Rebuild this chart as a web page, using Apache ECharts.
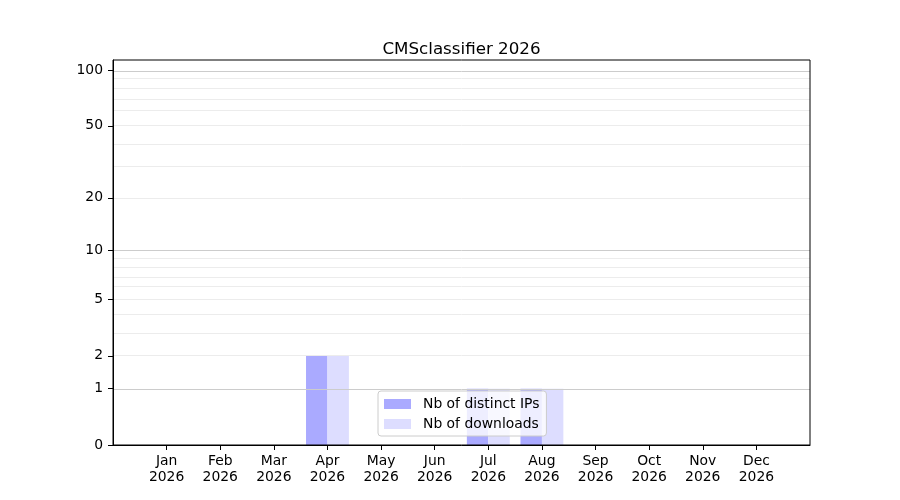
<!DOCTYPE html>
<html>
<head>
<meta charset="utf-8">
<script src="https://cdn.jsdelivr.net/npm/echarts@6/dist/echarts.min.js"></script>
<style>html,body{margin:0;padding:0;background:#fff}#c{width:900px;height:500px}</style>
</head>
<body>
<div id="c"></div>
<script>
const months = ['Jan','Feb','Mar','Apr','May','Jun','Jul','Aug','Sep','Oct','Nov','Dec'];
const year = '2026';
const distinctIPs = [0,0,0,2,0,0,1,1,0,0,0,0];
const downloads   = [0,0,0,2,0,0,1,1,0,0,0,0];
const yTicks = [0,1,2,5,10,20,50,100];
const majorGrid = [1,10,100];
const minorGrid = [2,3,4,5,6,7,8,9,20,30,40,50,60,70,80,90];
const yTop = 113.7;

const tr = v => Math.log10(1 + v);
const inv = t => Math.round(Math.pow(10, t) - 1);
const FONT = 'DejaVu Sans';

const cats = [''].concat(months.map(m => m + '\n' + year)).concat(['']);
const pad = arr => [null].concat(arr.map(tr)).concat([null]);

const chart = echarts.init(document.getElementById('c'));
chart.setOption({
  animation: false,
  backgroundColor: '#fff',
  textStyle: { fontFamily: FONT },
  title: {
    text: 'CMSclassifier ' + year,
    left: 456.5, top: 36, textAlign: 'center',
    textStyle: { fontFamily: FONT, fontSize: 16.7, fontWeight: 'normal', color: '#000' }
  },
  grid: { left: 113, right: 90, top: 60, bottom: 55, show: true, borderColor: '#000', borderWidth: 1, backgroundColor: 'transparent', z: 10 },
  legend: {
    data: ['Nb of distinct IPs', 'Nb of downloads'],
    orient: 'vertical', left: 378, top: 391,
    itemWidth: 27, itemHeight: 10, itemGap: 6, icon: 'rect',
    padding: [6, 7, 5, 6],
    backgroundColor: 'rgba(255,255,255,0.8)', borderColor: '#cccccc', borderWidth: 1, borderRadius: 3,
    textStyle: { fontFamily: FONT, fontSize: 13.9, color: '#000', padding: [0, 0, 0, 7] },
    z: 20
  },
  xAxis: {
    type: 'category', data: cats, boundaryGap: false, z: 10,
    axisLine: { lineStyle: { color: '#000', width: 1 } },
    axisTick: { length: 5, lineStyle: { color: '#000' }, interval: (i) => i > 0 && i < cats.length - 1 },
    axisLabel: { interval: 0, color: '#000', fontFamily: FONT, fontSize: 13.9, lineHeight: 16, margin: 8 },
    splitLine: { show: false }
  },
  yAxis: {
    type: 'value', min: 0, max: tr(yTop), z: 10,
    axisLine: { show: true, lineStyle: { color: '#000', width: 1 } },
    axisTick: { show: true, length: 5, lineStyle: { color: '#000' }, customValues: yTicks.map(tr) },
    axisLabel: { color: '#000', fontFamily: FONT, fontSize: 13.9, margin: 10, customValues: yTicks.map(tr), formatter: v => String(inv(v)) },
    splitLine: { show: false }
  },
  series: [
    {
      name: 'Nb of distinct IPs', type: 'bar', data: pad(distinctIPs),
      barWidth: '40%', barGap: '0%', itemStyle: { color: '#aaaaff' }, z: 2
    },
    {
      name: 'Nb of downloads', type: 'bar', data: pad(downloads),
      barWidth: '40%', barGap: '0%', itemStyle: { color: '#ddddff' }, z: 2
    },
    {
      name: 'minorGrid', type: 'line', data: [], z: 3, silent: true,
      markLine: { silent: true, symbol: 'none', label: { show: false }, animation: false,
        lineStyle: { color: '#ececec', width: 1, type: 'solid' },
        data: minorGrid.map(v => ({ yAxis: tr(v) })) }
    },
    {
      name: 'majorGrid', type: 'line', data: [], z: 4, silent: true,
      markLine: { silent: true, symbol: 'none', label: { show: false }, animation: false,
        lineStyle: { color: '#cccccc', width: 1, type: 'solid' },
        data: majorGrid.map(v => ({ yAxis: tr(v) })) }
    }
  ]
});
</script>
</body>
</html>
